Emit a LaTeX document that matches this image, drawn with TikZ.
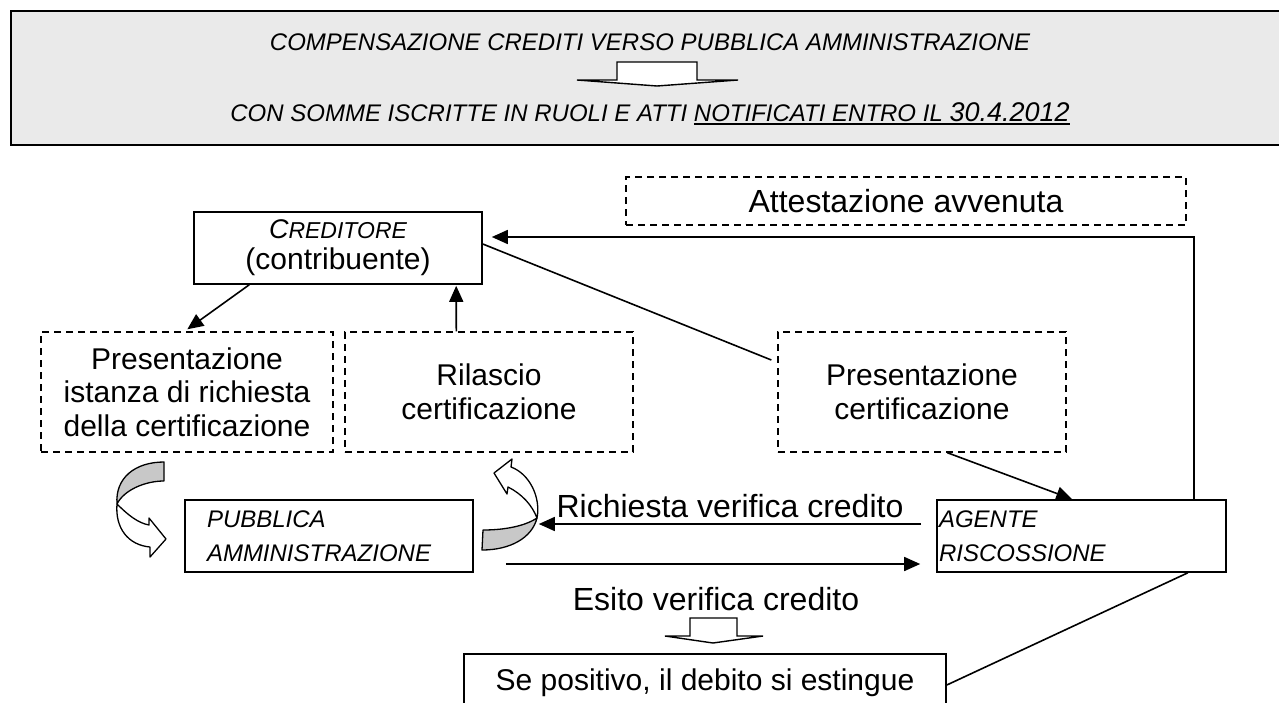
\documentclass[tikz,border=0pt]{standalone}
\usepackage{fontspec}
\setmainfont{Liberation Sans}
\usetikzlibrary{arrows.meta,calc}
\newcommand\myfs[2]{\fontsize{#1}{#2}\selectfont}
\newcommand\myul[1]{\leavevmode\setbox0\hbox{#1}\rlap{\raisebox{-3.5pt}{\rule{\wd0}{1.8pt}}}\box0}
\definecolor{hdrgray}{HTML}{EAEAEA}
\definecolor{twistgray}{HTML}{C8C8C8}
\begin{document}
\begin{tikzpicture}[x=1pt,y=-1pt,
  box/.style={draw, line width=1.6pt, inner sep=0pt},
  dbox/.style={draw, line width=1.4pt, dash pattern=on 7pt off 5pt, inner sep=0pt, align=center, font=\myfs{30}{33.5}},
  arr/.style={line width=1.6pt, -{Triangle[length=16pt,width=14pt]}},
  ln/.style={line width=1.6pt},
  lbl/.style={inner sep=0pt, anchor=base},
  blockarrow/.style={line width=1.4pt, fill=white, line join=miter},
  curl/.style={line width=1.3pt, line join=round},
]
\useasboundingbox (0,0) rectangle (1279,702);
\begin{scope}
\clip (0,0) rectangle (1279,702);
\fill[white] (0,0) rectangle (1279,702);

% header
\node[draw, line width=2.4pt, fill=hdrgray, minimum width=1290pt, minimum height=134pt, anchor=north west, inner sep=0pt] (hdr) at (10,10) {};
\node[lbl, font=\myfs{24}{28}\itshape] (h1) at (650,50) {COMPENSAZIONE CREDITI VERSO PUBBLICA AMMINISTRAZIONE};
\node[lbl, font=\myfs{24}{28}\itshape] (h2) at (650,121) {CON SOMME ISCRITTE IN RUOLI E ATTI \myul{NOTIFICATI ENTRO IL {\myfs{27}{28}30.4.2012}}};
\draw[blockarrow] (617,80) -- (617,62) -- (697,62) -- (697,80) -- (738,80) -- (657,86) -- (577,80) -- cycle;

% boxes
\node[dbox, minimum width=560pt, minimum height=48pt, font=\myfs{32}{34}] (att) at (906,201) {Attestazione avvenuta};
\node[box, minimum width=288pt, minimum height=72pt, align=center, font=\myfs{30}{31}] (cred) at (338,248)
  {{\itshape\myfs{27}{31}C\myfs{23}{31}REDITORE}\\(contribuente)};
\node[dbox, minimum width=292pt, minimum height=120pt] (b1) at (187,392) {Presentazione\\istanza di richiesta\\della certificazione};
\node[dbox, minimum width=288pt, minimum height=120pt] (b2) at (489,392) {Rilascio\\certificazione};
\node[dbox, minimum width=288pt, minimum height=120pt] (b3) at (922,392) {Presentazione\\certificazione};
\node[box, minimum width=288pt, minimum height=72pt, text width=244pt, align=left, inner xsep=22pt, font=\myfs{24}{34}\itshape] (pa) at (329,536) {PUBBLICA\\AMMINISTRAZIONE};
\node[box, minimum width=289pt, minimum height=72pt, text width=285pt, align=left, inner xsep=2pt, font=\myfs{24}{34}\itshape] (ag) at (1081.5,536) {AGENTE\\RISCOSSIONE};
\node[box, minimum width=482pt, minimum height=58pt, font=\myfs{30}{33}] (se) at (705,683) {Se positivo, il debito si estingue};

% labels
\node[lbl, font=\myfs{32}{34}] (ric) at (730,517) {Richiesta verifica credito};
\node[lbl, font=\myfs{32}{34}] (esi) at (716,610) {Esito verifica credito};
\draw[blockarrow] (690,636) -- (690,618) -- (737,618) -- (737,636) -- (763,636) -- (713,643) -- (665,636) -- cycle;

% connectors
\draw[arr] ($(cred.south west)+(56,0)$) -- ($(b1.north west)+(147,-2)$);
\draw[arr] ($(b2.north west)+(112,0)$) -- ($(cred.south west)+(263,1)$);
\draw[ln] ($(cred.east)+(0,-4)$) -- ($(b3.west)+(-6,-32)$);
\draw[arr] ($(b3.south west)+(170,0)$) -- ($(ag.north west)+(136,0)$);
\draw[arr] ($(ag.north east)+(-33,0)$) |- ($(cred.east)+(9,-11)$);
\draw[arr] ($(ag.west)+(-15,-12)$) -- ($(pa.east)+(65,-12)$);
\draw[arr] ($(pa.east)+(32,28)$) -- ($(ag.west)+(-16,28)$);
\draw[ln] ($(ag.south east)+(-39,0)$) -- ($(se.east)+(0,2)$);

% left curved arrow (b1 -> pa)
\draw[curl, fill=white] (117,504) .. controls (128,515) and (138,523) .. (149,525) -- (149,518) -- (166,539) -- (150,557) -- (150,547) .. controls (128,545) and (115,528) .. (117,504) -- cycle;
\draw[curl, fill=twistgray] (164,462) -- (164,481) .. controls (145,481) and (124,490) .. (117,504) .. controls (115,478) and (135,462) .. (164,462) -- cycle;

% right curved arrow (pa -> b2)
\draw[curl, fill=twistgray] (483,530) .. controls (505,530) and (525,526) .. (537,518) .. controls (532,538) and (510,550) .. (482,550) -- cycle;
\draw[curl, fill=white] (537,518) .. controls (541,498) and (530,474) .. (511,467) -- (512,459) -- (494,473) -- (507,494) -- (508,487) .. controls (522,494) and (532,505) .. (537,518) -- cycle;
\end{scope}
\end{tikzpicture}
\end{document}
